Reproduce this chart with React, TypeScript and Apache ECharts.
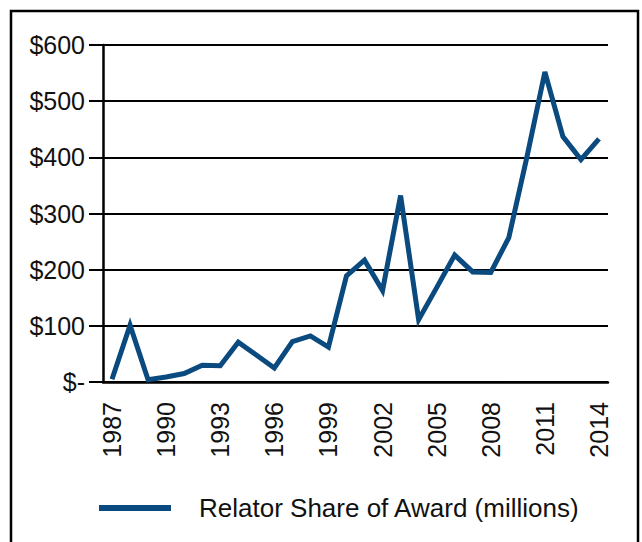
import React, { useEffect, useRef } from "react";
import * as echarts from "echarts";

const years = [
  "1987", "1988", "1989", "1990", "1991", "1992", "1993", "1994", "1995", "1996",
  "1997", "1998", "1999", "2000", "2001", "2002", "2003", "2004", "2005", "2006",
  "2007", "2008", "2009", "2010", "2011", "2012", "2013", "2014",
];
const relatorShare = [
  5, 101, 4, 9, 15, 30, 29, 71, 48, 25,
  72, 82, 62, 189, 217, 163, 332, 111, 168, 226,
  196, 195, 257, 400, 552, 437, 396, 433,
];
const seriesName = "Relator Share of Award (millions)";
const yTicks = [0, 100, 200, 300, 400, 500, 600];

const FONT = "Liberation Sans, Arial, sans-serif";
const BLUE = "#0a4a7e";

export default function App() {
  const ref = useRef<HTMLDivElement>(null);
  useEffect(() => {
    if (!ref.current) return;
    const chart = echarts.init(ref.current, null, { renderer: "svg" });
    chart.setOption({
      animation: false,
      backgroundColor: "#ffffff",
      textStyle: { fontFamily: FONT },
      graphic: [
        {
          type: "rect",
          shape: { x: 11, y: 11, width: 627, height: 600 },
          style: { fill: "none", stroke: "#000", lineWidth: 2.5 },
          silent: true,
        },
      ],
      grid: { left: 103, right: 34, top: 45, bottom: 160, containLabel: false },
      legend: {
        data: [seriesName],
        left: 99,
        top: 495,
        padding: 0,
        icon: "rect",
        itemWidth: 72,
        itemHeight: 6,
        textStyle: {
          fontSize: 26,
          color: "#111",
          fontFamily: FONT,
          padding: [0, 0, 0, 23],
        },
      },
      xAxis: {
        type: "category",
        data: years,
        boundaryGap: true,
        axisLine: { lineStyle: { color: "#000", width: 2.5 } },
        axisTick: { interval: 0, length: 11, lineStyle: { color: "#000", width: 2 } },
        axisLabel: {
          interval: 2,
          rotate: 90,
          margin: 20,
          fontSize: 25,
          color: "#111",
          fontFamily: FONT,
        },
        splitLine: { show: false },
      },
      yAxis: {
        type: "value",
        min: yTicks[0],
        max: yTicks[yTicks.length - 1],
        interval: 100,
        axisLine: { show: true, lineStyle: { color: "#000", width: 2.5 } },
        axisTick: { show: true, length: 14, lineStyle: { color: "#000", width: 2 } },
        axisLabel: {
          margin: 18,
          fontSize: 25,
          color: "#111",
          fontFamily: FONT,
          formatter: (v: number) => (v === 0 ? "$-" : "$" + v),
        },
        splitLine: { show: true, lineStyle: { color: "#000", width: 2 } },
      },
      series: [
        {
          name: seriesName,
          type: "line",
          data: relatorShare,
          showSymbol: false,
          symbol: "none",
          color: BLUE,
          itemStyle: { color: BLUE },
          lineStyle: { color: BLUE, width: 5, join: "miter", cap: "butt", miterLimit: 10 },
        },
      ],
    });
    return () => chart.dispose();
  }, []);
  return (
    <div
      ref={ref}
      style={{ position: "absolute", left: 0, top: 0, width: 642, height: 542 }}
    />
  );
}
